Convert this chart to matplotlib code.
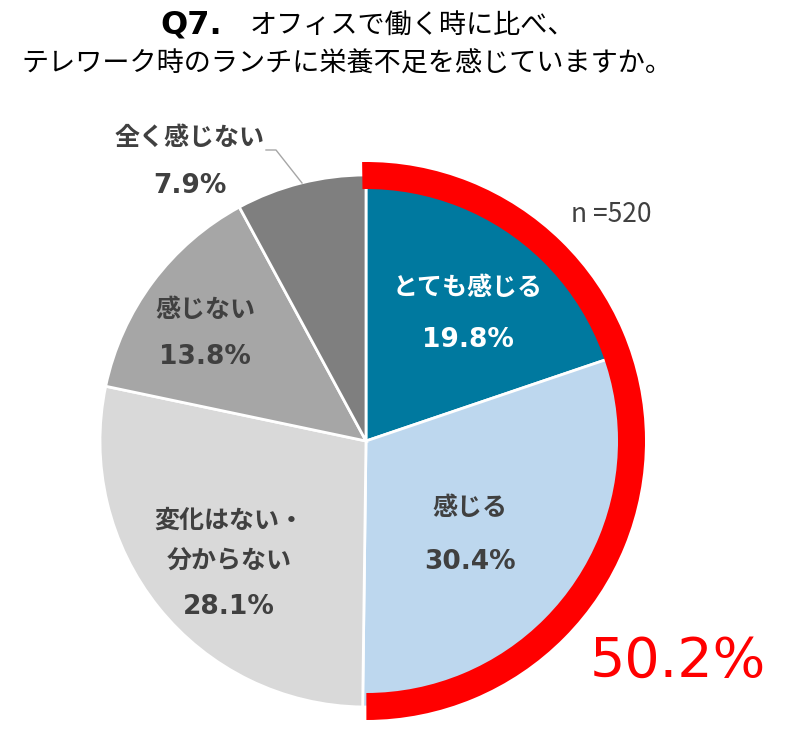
import matplotlib.pyplot as plt

plt.rcParams["font.family"] = ["Noto Sans CJK JP", "DejaVu Sans"]

labels = ["とても感じる", "感じる", "変化はない・\n分からない", "感じない", "全く感じない"]
values = [19.8, 30.4, 28.1, 13.8, 7.9]
colours = ["#00799F", "#BDD7EE", "#D9D9D9", "#A6A6A6", "#7F7F7F"]
highlight = 50.2  # とても感じる + 感じる
n_total = 520

DARK = "#404040"

fig = plt.figure(figsize=(8, 7.42), dpi=100)
ax = fig.add_axes([0, 0, 1, 1])

cx, cy, r = 366, 742 - 441, 266

ax.pie(
    values,
    colors=colours,
    startangle=90,
    counterclock=False,
    center=(cx, cy),
    radius=r,
    wedgeprops=dict(edgecolor="white", linewidth=2),
    frame=True,
)
# red ring over the top-two share
ax.pie(
    [highlight, 100 - highlight],
    colors=["#FF0000", "none"],
    startangle=90.8,
    counterclock=False,
    center=(cx, cy),
    radius=279,
    wedgeprops=dict(width=27, linewidth=0),
    frame=True,
)
ax.set_xlim(0, 800)
ax.set_ylim(0, 742)
ax.set_aspect("equal")
ax.axis("off")

# slice labels (pixel positions from the top of the image)
label_pos = [(468, [288], 340), (470, [508], 562), (229, [521, 562], 607),
             (205, [310], 357), (190, [138], 186)]
for i, (lab, val) in enumerate(zip(labels, values)):
    x, ys, y2 = label_pos[i]
    col = "white" if i == 0 else DARK
    for line, y1 in zip(lab.split("\n"), ys):
        ax.text(x, 742 - y1, line, ha="center", va="center", fontsize=18,
                fontweight="bold", color=col)
    ax.text(x, 742 - y2, f"{val:.1f}%", ha="center", va="center", fontsize=19,
            fontweight="bold", color=col, family=["DejaVu Sans"])

# leader line for 全く感じない
ax.plot([266, 276, 302], [742 - 150, 742 - 150, 742 - 183], color="#A6A6A6", lw=1)

ax.text(611, 742 - 215, f"n ={n_total}", ha="center", va="center", fontsize=19, color=DARK)
ax.text(678, 742 - 662, f"{highlight:.1f}%", ha="center", va="center", fontsize=40,
        color="#FF0000", family=["DejaVu Sans"])

ax.text(160, 742 - 25, "Q7.", ha="left", va="center", fontsize=23,
        fontweight="bold", color="black", family=["DejaVu Sans"])
ax.text(250, 742 - 26, "オフィスで働く時に比べ、", ha="left", va="center",
        fontsize=19.5, color="black")
ax.text(347, 742 - 64, "テレワーク時のランチに栄養不足を感じていますか。", ha="center", va="center",
        fontsize=19.5, color="black")

fig.savefig("out.png", dpi=100)
